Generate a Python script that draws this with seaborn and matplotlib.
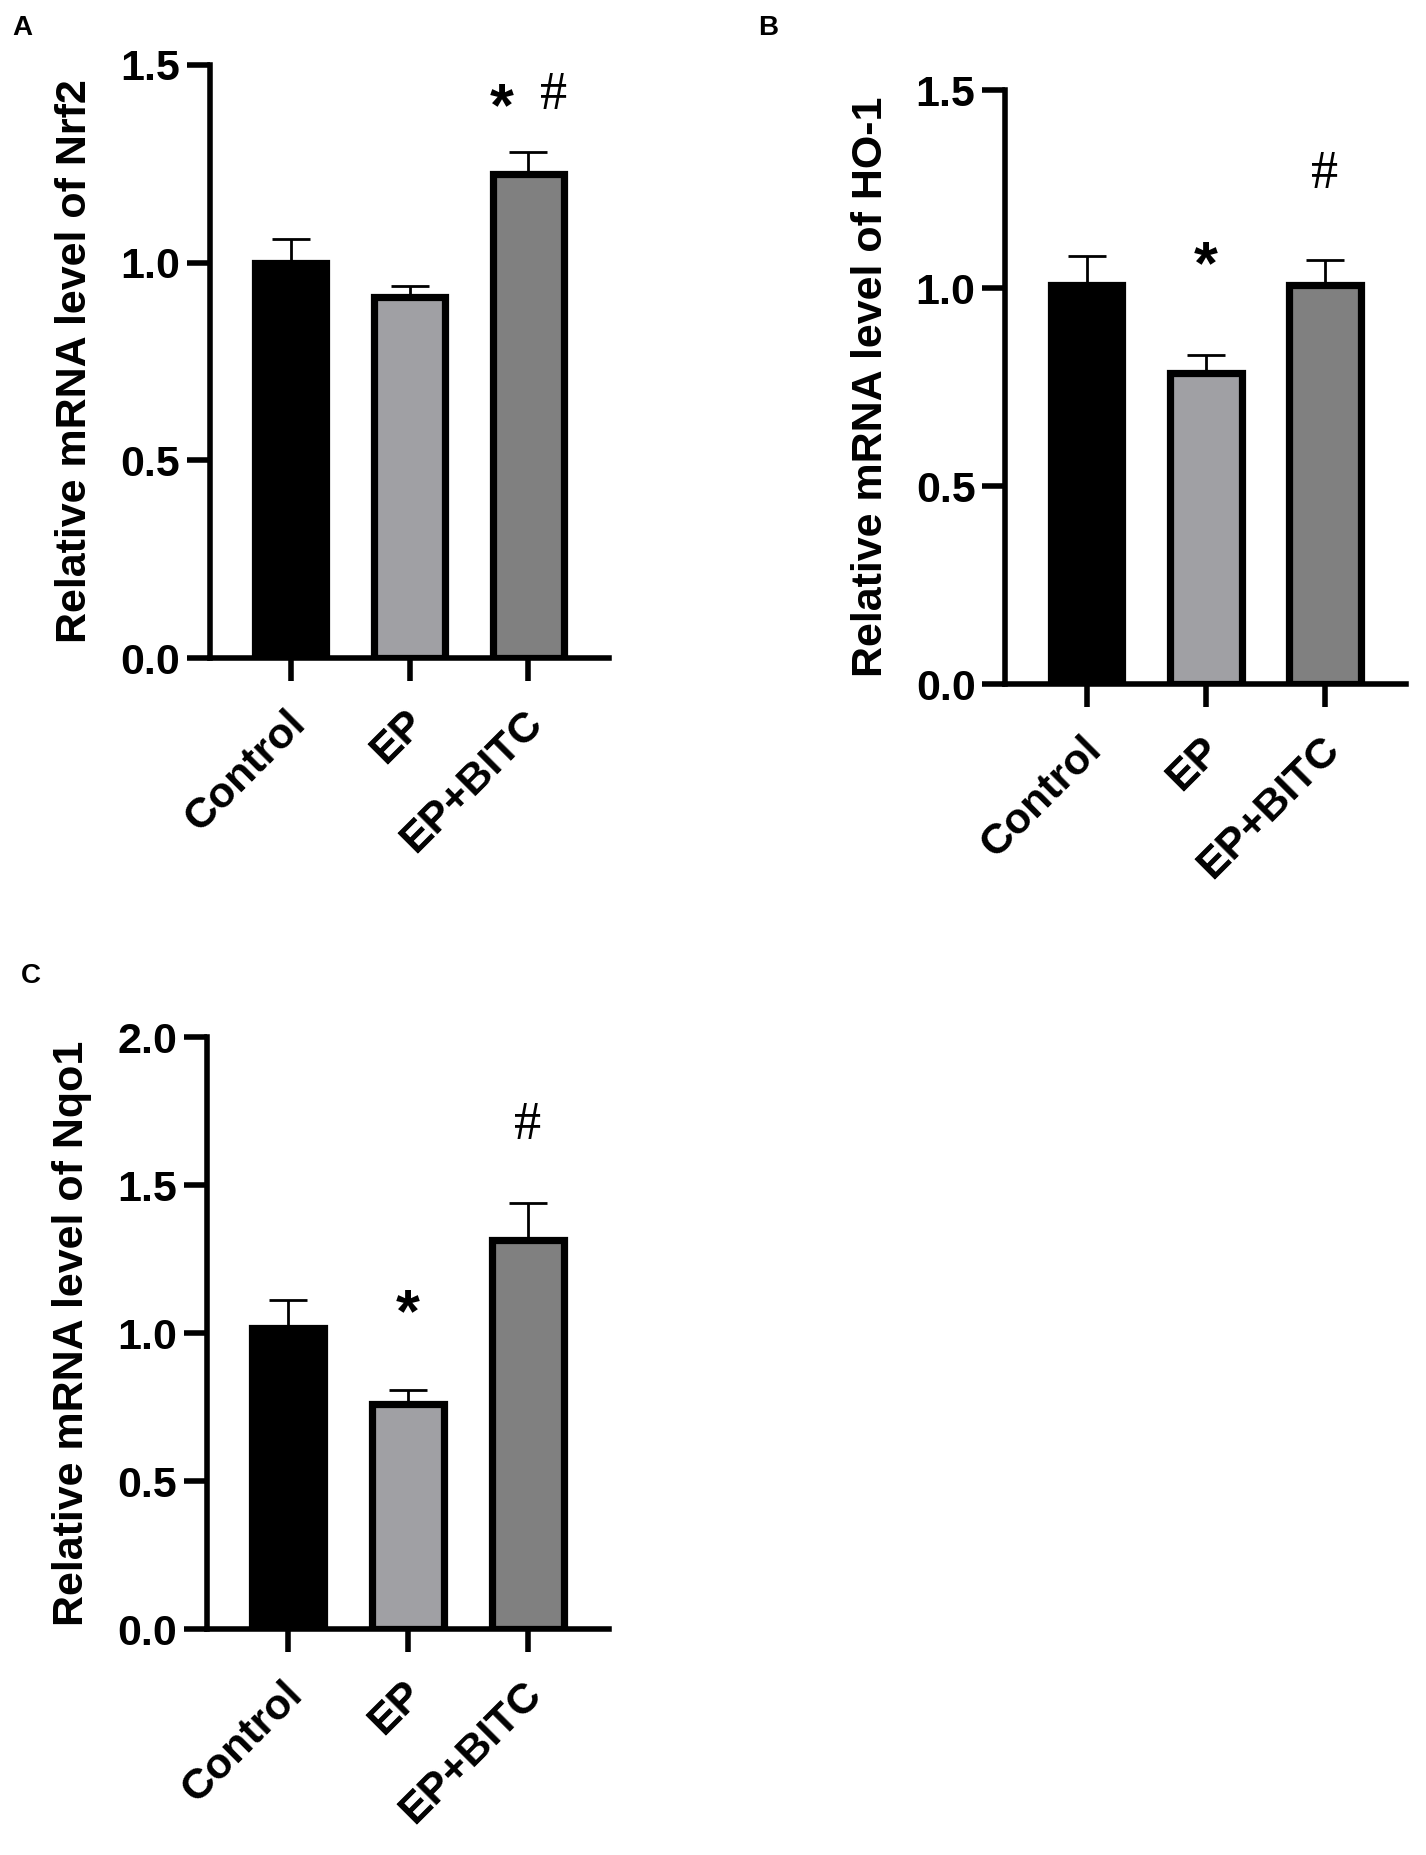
import numpy as np
import pandas as pd
import matplotlib
matplotlib.use('Agg')
import matplotlib.pyplot as plt
import matplotlib.transforms as mtransforms
import seaborn as sns

# data
groups = ['Control', 'EP', 'EP+BITC']

nrf2_mean = [1.00, 0.912, 1.225]
nrf2_sem = [0.06, 0.028, 0.055]

ho1_mean = [1.007, 0.786, 1.009]
ho1_sem = [0.074, 0.046, 0.063]

nqo1_mean = [1.018, 0.759, 1.315]
nqo1_sem = [0.095, 0.050, 0.123]

# significance marks per bar ('' = none)
nrf2_marks = ['', '', '* #']
ho1_marks = ['', '*', '#']
nqo1_marks = ['', '*', '#']

bar_colors = ['#000000', '#a0a0a4', '#808080']

sns.set_style('ticks')
plt.rcParams['font.family'] = ['Liberation Sans', 'DejaVu Sans']
plt.rcParams['font.weight'] = 'bold'
plt.rcParams['text.color'] = 'black'
plt.rcParams['axes.labelcolor'] = 'black'
plt.rcParams['axes.edgecolor'] = 'black'
plt.rcParams['xtick.color'] = 'black'
plt.rcParams['ytick.color'] = 'black'

fig = plt.figure(figsize=(14.26, 18.55), dpi=100)

panels = [
    # (letter, letter pos, axes rect, ylabel, means, sems, marks, ymax, mark offsets in pt)
    ('A', (0.0154, 0.985), [0.1473, 0.6452, 0.2798, 0.3199],
     'Relative mRNA level of Nrf2', nrf2_mean, nrf2_sem, nrf2_marks, 1.5,
     [None, None, 40]),
    ('B', (0.5386, 0.9851), [0.7051, 0.6311, 0.2809, 0.3203],
     'Relative mRNA level of HO-1', ho1_mean, ho1_sem, ho1_marks, 1.5,
     [None, 73, 61]),
    ('C', (0.0217, 0.4739), [0.1450, 0.1218, 0.2821, 0.3191],
     'Relative mRNA level of Nqo1', nqo1_mean, nqo1_sem, nqo1_marks, 2.0,
     [None, 63, 56]),
]


def star(ax, x, y, dx, dy):
    # bold asterisk sits high in its box, so pull it down a bit
    ax.annotate('*', xy=(x, y), xytext=(dx, dy - 10), textcoords='offset points',
                ha='center', va='center', fontsize=44, fontweight='bold')


def hash_mark(ax, x, y, dx, dy):
    ax.annotate('#', xy=(x, y), xytext=(dx, dy), textcoords='offset points',
                ha='center', va='center', fontsize=39,
                family='Liberation Serif', fontweight='normal')


label_shift = mtransforms.ScaledTranslation(6 / 72, 0, fig.dpi_scale_trans)

for letter, lpos, rect, ylabel, means, sems, marks, ymax, offs in panels:
    ax = fig.add_axes(rect)
    df = pd.DataFrame({'group': groups, 'value': means})
    sns.barplot(data=df, x='group', y='value', hue='group', palette=bar_colors,
                width=0.6, edgecolor='black', linewidth=5.2, errorbar=None,
                legend=False, ax=ax, zorder=3)
    ax.errorbar(range(len(groups)), means, yerr=[np.zeros(len(sems)), sems],
                fmt='none', ecolor='black', elinewidth=2, capsize=14,
                capthick=2, zorder=2)

    ax.set_xlim(-0.68, 2.68)
    ax.set_ylim(0, ymax)
    yt = np.arange(0, ymax + 0.01, 0.5)
    ax.set_yticks(yt)
    ax.set_yticklabels([f'{t:.1f}' for t in yt])
    sns.despine(ax=ax)
    for side in ['left', 'bottom']:
        ax.spines[side].set_linewidth(4)
        ax.spines[side].set_color('black')
    ax.tick_params(axis='both', width=4, length=16.5, labelsize=31, pad=5,
                   color='black', labelcolor='black')
    ax.tick_params(axis='x', pad=26)
    ax.set_xlabel('')
    ax.set_ylabel(ylabel, fontsize=31, fontweight='bold', labelpad=18,
                  color='black')
    for lab in ax.get_xticklabels():
        lab.set_rotation(45)
        lab.set_ha('right')
        lab.set_va('center')
        lab.set_rotation_mode('anchor')
        lab.set_fontweight('bold')
        lab.set_transform(lab.get_transform() + label_shift)
    for lab in ax.get_yticklabels():
        lab.set_fontweight('bold')

    for i, m in enumerate(marks):
        if not m:
            continue
        top = means[i] + sems[i]
        if m == '* #':
            star(ax, i, top, -19.5, offs[i])
            hash_mark(ax, i, top, 18, offs[i])
        elif m == '*':
            star(ax, i, top, 0, offs[i])
        else:
            hash_mark(ax, i, top, 0, offs[i])

    fig.text(lpos[0], lpos[1], letter, ha='center', va='center',
             fontsize=20, fontweight='bold')

fig.savefig('out.png', dpi=100)
